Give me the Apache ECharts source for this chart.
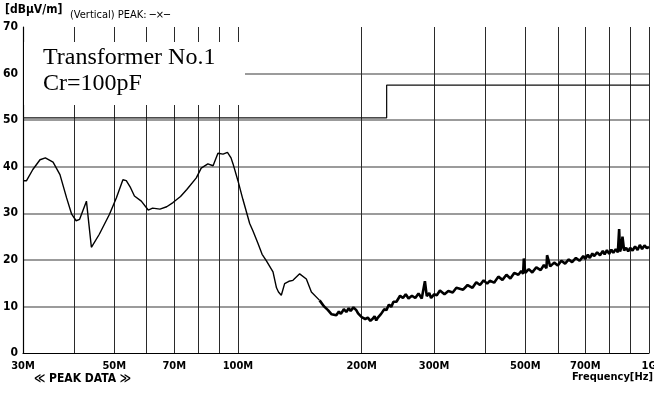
<!DOCTYPE html>
<html>
<head>
<meta charset="utf-8">
<title>EMI peak scan</title>
<script src="https://cdn.jsdelivr.net/npm/echarts@6/dist/echarts.min.js"></script>
<style>
html,body{margin:0;padding:0;background:#fff;}
#main{width:654px;height:398px;}
</style>
</head>
<body>
<div id="main"></div>
<script>
var myChart;

// 频率刻度 (MHz)
var gridFreqs = [30, 40, 50, 60, 70, 80, 90, 100, 200, 300, 400, 500, 600, 700, 800, 900, 1000];
var labelFreqs = [30, 50, 70, 100, 200, 300, 500, 700, 1000];
var labelTexts = ['30M', '50M', '70M', '100M', '200M', '300M', '500M', '700M', '1G'];

// 限值线 (MHz, dBuV/m)
var limitFreqs = [30, 230, 230, 1000];
var limitLevels = [50.5, 50.5, 57.5, 57.5];

// 测量曲线 - 平滑段
var traceFreqs = [30, 30.6, 31.7, 33.0, 34.0, 35.5, 36.9, 38.3, 39.4, 40.4, 41.2, 42.8, 43.2, 44.0,
	46.0, 48.7, 50.6, 52.5, 53.5, 54.8, 56.0, 58.2, 60.5, 62.0, 64.6, 67.1, 69.5, 72.5, 75.1, 79.2,
	81.4, 84.5, 87.0, 89.4, 92.0, 94.3, 96.2, 97.3, 100.0, 102.8, 106.8, 108.8, 111.9, 114.5, 117.3,
	121.7, 124.1, 125.5, 127.5, 129.9, 133.0, 136.1, 141.3, 146.7, 150.9, 158.0];
var traceLevels = [37.0, 37.0, 39.4, 41.5, 41.9, 41.0, 38.3, 33.3, 29.8, 28.4, 28.7, 32.6, 32.3, 22.7,
	25.5, 29.8, 33.3, 37.2, 37.0, 35.5, 33.7, 32.6, 30.7, 31.1, 30.9, 31.4, 32.3, 33.6, 35.1, 37.6,
	39.7, 40.6, 40.2, 42.9, 42.7, 43.1, 41.9, 40.6, 37.0, 33.0, 27.8, 26.2, 23.5, 21.2, 19.8,
	17.4, 14.0, 13.1, 12.4, 14.9, 15.4, 15.6, 17.0, 15.9, 13.1, 11.3];

// 测量曲线 - 噪声段
var noiseFreqs = [158, 162, 165.6, 169, 173.5, 176, 178, 181, 183.5, 186, 188, 191, 194, 196, 198, 200,
	201.4, 204, 207, 210, 213, 215, 217, 219, 221.2, 223, 225, 227, 229.7, 233, 236, 239, 243, 248, 252,
	256, 260, 265, 270, 275, 280, 282.4, 285, 288, 292, 295, 300, 304.6, 310, 318, 325, 333, 340, 353,
	362, 372, 380, 388, 396, 404, 410, 420, 430, 440, 450, 460, 470, 481, 489, 494, 496, 500, 510, 520,
	532, 545, 555, 563, 565, 575, 588, 600, 612, 625, 638, 650, 664, 678, 692, 700, 710, 718, 728, 735,
	748, 760, 772, 780, 790, 800, 810, 819, 830, 840, 846, 850, 856, 862, 870, 880, 890, 900, 912, 925,
	938, 950, 962, 975, 988, 1000];
var noiseLevels = [11.3, 10.0, 9.2, 8.3, 8.1, 8.9, 8.4, 9.4, 8.8, 9.6, 9.0, 9.8, 9.2, 8.5, 8.4, 7.7,
	8.1, 7.3, 7.6, 6.9, 7.4, 7.9, 7.0, 7.6, 7.4, 8.4, 8.2, 9.4, 9.2, 10.4, 9.9, 11.0, 11.0, 12.3, 11.8,
	12.6, 11.7, 12.3, 11.8, 12.8, 11.7, 12.1, 15.4, 12.2, 12.9, 11.8, 12.6, 12.4, 13.4, 12.6, 13.3, 13.0, 14.0, 13.6,
	14.6, 14.0, 15.2, 14.6, 15.6, 14.9, 15.5, 15.1, 16.4, 15.7, 16.8, 16.0, 17.2, 16.8, 17.6, 17.0,
	20.3, 17.2, 18.0, 17.3, 18.4, 17.8, 18.9, 18.2, 21.0, 18.6, 19.4, 18.8, 19.8, 19.2, 20.1, 19.5,
	20.4, 19.8, 20.8, 20.2, 21.1, 20.4, 21.4, 20.8, 21.6, 21.0, 21.9, 21.2, 22.1, 21.3, 22.2, 21.5, 22.3,
	21.6, 26.6, 21.8, 22.6, 25.0, 22.0, 22.6, 21.8, 22.6, 22.0, 22.9, 22.1, 23.2, 22.3, 23.1, 22.5, 22.8];

var labelFont = 'DejaVu Sans Condensed, DejaVu Sans, sans-serif';

function toLog(list){
	return list.map(function(f){ return Math.log10(f); });
}

function pairs(freqs, levels){
	return freqs.map(function(f, i){ return [Math.log10(f), levels[i]]; });
}

function showChart(){
	var dom = document.getElementById('main');
	myChart = echarts.init(dom, null, {renderer: 'canvas'});
	var option = {
		animation: false,
		backgroundColor: '#fff',
		grid: {left: 23, right: 5, top: 27, bottom: 45, containLabel: false, outerBoundsMode: 'none'},
		xAxis: {
			type: 'value',
			min: Math.log10(30),
			max: 3,
			axisLine: {show: true, lineStyle: {color: '#000', width: 1.2}},
			axisTick: {show: false, customValues: toLog(gridFreqs)},
			axisLabel: {
				customValues: toLog(labelFreqs),
				margin: 8,
				color: '#000',
				fontSize: 11,
				fontWeight: 'bold',
				fontFamily: labelFont,
				formatter: function(v){
					var f = Math.round(Math.pow(10, v));
					var i = labelFreqs.indexOf(f);
					return i >= 0 ? labelTexts[i] : '';
				}
			},
			splitLine: {show: true, showMinLine: false, lineStyle: {color: '#2a2a2a', width: 1}}
		},
		yAxis: {
			type: 'value',
			min: 0,
			max: 70,
			interval: 10,
			axisLine: {show: true, lineStyle: {color: '#000', width: 1.2}},
			axisTick: {show: false},
			axisLabel: {margin: 5, color: '#000', fontSize: 12, fontWeight: 'bold', fontFamily: labelFont},
			splitLine: {show: true, showMinLine: false, showMaxLine: false, lineStyle: {color: '#7a7a7a', width: 1.5}}
		},
		graphic: [
			{type: 'rect', left: 24, top: 42, z: 50, shape: {width: 221, height: 63}, style: {fill: '#fff'}},
			{type: 'text', left: 43, top: 46, z: 51, style: {text: 'Transformer No.1', fill: '#000', font: '24px "Liberation Serif", serif'}},
			{type: 'text', left: 43, top: 72, z: 51, style: {text: 'Cr=100pF', fill: '#000', font: '24px "Liberation Serif", serif'}},
			{type: 'text', left: 5, top: 4, z: 51, style: {text: '[dBμV/m]', fill: '#000', font: 'bold 12px ' + labelFont}},
			{type: 'text', left: 70, top: 10, z: 51, style: {text: '(Vertical) PEAK: ─×─', fill: '#000', font: '11px ' + labelFont}},
			{type: 'text', left: 34, top: 373, z: 51, style: {text: '≪ PEAK DATA ≫', fill: '#000', font: 'bold 12px ' + labelFont}},
			{type: 'text', left: 572, top: 372, z: 51, style: {text: 'Frequency[Hz]', fill: '#000', font: 'bold 11px ' + labelFont}}
		],
		series: [
			{
				name: 'limit',
				type: 'line',
				showSymbol: false,
				data: pairs(limitFreqs, limitLevels),
				lineStyle: {color: '#111', width: 1.3},
				z: 3
			},
			{
				name: 'trace',
				type: 'line',
				showSymbol: false,
				data: pairs(traceFreqs, traceLevels),
				lineStyle: {color: '#000', width: 1.4},
				z: 4
			},
			{
				name: 'noise',
				type: 'line',
				showSymbol: false,
				data: pairs(noiseFreqs, noiseLevels),
				lineStyle: {color: '#000', width: 2.6},
				z: 4
			}
		]
	};
	myChart.setOption(option, true);
}

showChart();
</script>
</body>
</html>
